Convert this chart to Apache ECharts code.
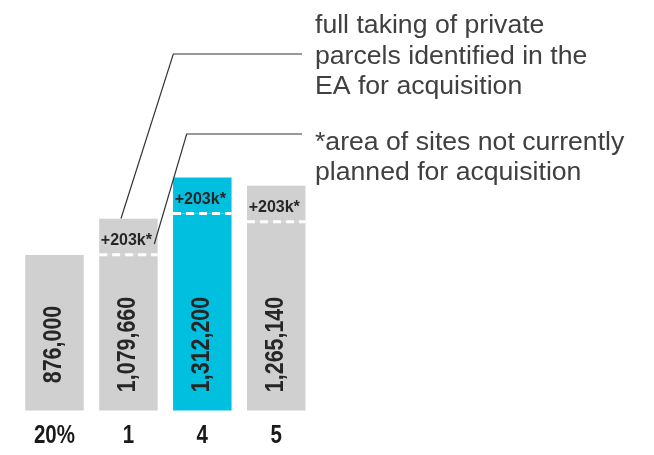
<!DOCTYPE html>
<html>
<head>
<meta charset="utf-8">
<script src="https://cdn.jsdelivr.net/npm/echarts@6/dist/echarts.min.js"></script>
<style>
html,body{margin:0;padding:0;background:#fff;}
#c{width:654px;height:455px;}
</style>
</head>
<body>
<div id="c"></div>
<script>
// ---- data ----
const categories = ['20%', '1', '4', '5'];
const totals = [876000, 1079660, 1312200, 1265140];
const extras = [null, 203000, 203000, 203000];
const extraLabel = '+203k*';
const highlightIndex = 2;
const noteTop = ['full taking of private', 'parcels identified in the', 'EA for acquisition'];
const noteBottom = ['*area of sites not currently', 'planned for acquisition'];

// ---- styling ----
const GRAY = '#d0d0d0';
const CYAN = '#00bfdf';
const BAR_W = 58.5;
const sans = '"Liberation Sans", Arial, sans-serif';

const baseData = totals.map((t, i) => ({
  value: extras[i] == null ? t : t - extras[i],
  itemStyle: { color: i === highlightIndex ? CYAN : GRAY }
}));
const extraData = extras.map((e, i) => ({
  value: e == null ? '-' : e,
  itemStyle: { color: i === highlightIndex ? CYAN : GRAY }
}));
const fmt = v => v.toLocaleString('en-US');

const chart = echarts.init(document.getElementById('c'), null, { renderer: 'canvas' });

const noteStyle = t => ({ text: t, fill: '#404040', font: '25px ' + sans, align: 'left', verticalAlign: 'middle' });
const graphics = [];
noteTop.forEach((t, k) => {
  graphics.push({ type: 'text', x: 315, y: 26.5 + k * 30.4, scaleX: 1.065, z: 10, style: noteStyle(t) });
});
noteBottom.forEach((t, k) => {
  graphics.push({ type: 'text', x: 315, y: 143.5 + k * 30, scaleX: 1.065, z: 10, style: noteStyle(t) });
});

chart.setOption({
  animation: false,
  grid: { left: 17.5, width: 295.7, top: 2, height: 408.5 },
  xAxis: {
    type: 'category', data: categories,
    axisLine: { show: false }, axisTick: { show: false },
    axisLabel: { show: false }
  },
  yAxis: { type: 'value', min: 0, max: 2300000, show: false, splitLine: { show: false } },
  series: [
    { type: 'bar', stack: 's', barWidth: BAR_W, data: baseData },
    {
      type: 'bar', stack: 's', barWidth: BAR_W, data: extraData,
      label: {
        show: true, position: 'inside', offset: [-2, 4],
        color: '#262626', fontSize: 16, fontWeight: 'bold', fontFamily: sans,
        formatter: () => extraLabel
      }
    },
    {
      // dashed boundary between the base and the +203k part
      type: 'custom', z: 5, clip: false,
      data: extras.map((e, i) => [i, e == null ? '-' : totals[i] - e]),
      renderItem: (params, api) => {
        const v = api.value(1);
        if (isNaN(v)) return null;
        const p = api.coord([api.value(0), v]);
        return {
          type: 'line',
          shape: { x1: p[0] - BAR_W / 2, y1: p[1], x2: p[0] + BAR_W / 2, y2: p[1] },
          style: { stroke: '#ffffff', lineWidth: 3, lineDash: [8, 5] }
        };
      }
    },
    {
      // condensed bold labels: values inside bars and category names below
      type: 'custom', z: 6, clip: false,
      data: totals.map((t, i) => [i, t]),
      renderItem: (params, api) => {
        const i = api.value(0);
        const p = api.coord([i, 0]);
        return {
          type: 'group',
          children: [
            { type: 'text', x: p[0], y: p[1] - 66, rotation: Math.PI / 2, scaleX: 0.84,
              style: { text: fmt(api.value(1)), font: 'bold 25.5px ' + sans, fill: '#262626', align: 'center', verticalAlign: 'middle' } },
            { type: 'text', x: p[0], y: p[1] + 26, scaleX: 0.82,
              style: { text: categories[i], font: 'bold 25px ' + sans, fill: '#1a1a1a', align: 'center', verticalAlign: 'middle' } }
          ]
        };
      }
    }
  ],
  graphic: graphics.concat([
    { type: 'polyline', z: 10, shape: { points: [[121, 218.5], [173.3, 54], [302, 54]] },
      style: { stroke: '#333', lineWidth: 1.2, fill: null } },
    { type: 'polyline', z: 10, shape: { points: [[154.3, 244], [186.7, 134], [302, 134]] },
      style: { stroke: '#333', lineWidth: 1.2, fill: null } }
  ])
});
</script>
</body>
</html>
